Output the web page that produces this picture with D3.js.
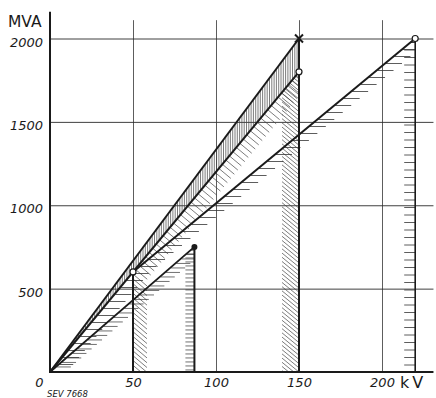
<!DOCTYPE html>
<html><head><meta charset="utf-8">
<script src="https://cdn.jsdelivr.net/npm/d3@7"></script>
<style>body{margin:0;background:#fff} svg{display:block}</style>
</head><body><svg id="c" width="436" height="398"></svg>
<script>
// ---- data ----
const xTicks=[0,50,100,150,200];
const xTickLabels=["0","50","100","150","200"];
const yTicks=[500,1000,1500,2000];
const yTickLabels=["500","1000","1500","2000"];
const lineA=[[0,0],[150,2000]];
const lineB=[[0,0],[150,1800]];
const lineC=[[50,600],[220,2000]];
const lineD=[[0,0],[87,750]];
const verticals=[[50,600],[87,750],[150,2000],[220,2000]];
const openPts=[[150,1800],[50,600],[220,2000]];
const filledPts=[[87,750]];
const crossPts=[[150,2000]];
const bandAB=[[0,0],[150,2000],[150,1800]];
const regionB=[[50,0],[50,600],[150,1800],[150,0]];
const regionC=[[0,0],[50,600],[220,2000],[220,0]];
const regionD=[[0,0],[87,750],[87,0]];

// ---- setup ----
const svg=d3.select('#c');
const x=d3.scaleLinear().domain([0,200]).range([50,382]);
const y=d3.scaleLinear().domain([0,2000]).range([372,38.5]);
const xMax=231, yMax=2160, gridTop=2110;
const ink='#1a1a1a';
const defs=svg.append('defs');
const P=p=>[x(p[0]),y(p[1])];

// grid + tick labels
const gx=svg.append('g').attr('transform',`translate(0,${y(0)})`)
  .call(d3.axisBottom(x).tickValues(xTicks).tickFormat((d,i)=>xTickLabels[i])
    .tickSizeInner(-(y(0)-y(gridTop))).tickSizeOuter(0).tickPadding(6));
gx.select('.domain').remove();
gx.selectAll('.tick line').attr('stroke','#333').attr('stroke-width',0.8);
gx.selectAll('.tick').filter(d=>d===0).select('line').remove();
gx.selectAll('.tick').filter(d=>d===0).select('text').attr('dx',-11);
gx.selectAll('text').attr('font-family','DejaVu Sans').attr('font-style','italic')
  .attr('font-size',13).attr('fill',ink);

const gy=svg.append('g').attr('transform',`translate(${x(0)},0)`)
  .call(d3.axisLeft(y).tickValues(yTicks).tickFormat((d,i)=>yTickLabels[i])
    .tickSizeInner(-(x(xMax)-x(0))).tickSizeOuter(0).tickPadding(7));
gy.select('.domain').remove();
gy.selectAll('.tick line').attr('stroke','#2a2a2a').attr('stroke-width',0.9);
gy.selectAll('text').attr('font-family','DejaVu Sans').attr('font-style','italic')
  .attr('font-size',13).attr('fill',ink).attr('dy','0.58em');

// clip paths for regions
function clip(id,pts){
  defs.append('clipPath').attr('id',id).append('path').attr('d',d3.line()(pts.map(P))+'Z');
}
clip('cAB',bandAB); clip('cB',regionB); clip('cC',regionC); clip('cD',regionD);

function xOnSeg(a,b,py){ const A=P(a),B=P(b); return A[0]+(py-A[1])*(B[0]-A[0])/(B[1]-A[1]); }
function drawSegs(id,segs,w,col){
  svg.append('g').attr('clip-path',`url(#${id})`).selectAll('line').data(segs).join('line')
    .attr('x1',d=>d[0]).attr('y1',d=>d[1]).attr('x2',d=>d[2]).attr('y2',d=>d[3])
    .attr('stroke',col).attr('stroke-width',w);
}

// band A-B : vertical hatch
{
  const segs=[];
  for(let px=x(0)+1;px<=x(150);px+=2.3){
    const v=x.invert(px);
    segs.push([px,y(v*2000/150),px,y(v*1800/150)]);
  }
  drawSegs('cAB',segs,0.7,'#444');
}
// region B : diagonal hatch along edges
{
  const segs=[];
  for(let py=y(600)+3;py<=y(0);py+=4.8) segs.push([x(50)+1,py,x(50)+14,py+11]);
  for(let py=y(1800)+2;py<=y(0)+14;py+=4.2) segs.push([x(150)-17,py-14,x(150),py]);
  for(let py=y(1800);py<=y(600);py+=4.2){
    const px=xOnSeg([50,600],[150,1800],py);
    segs.push([px,py,px+12,py+10]);
  }
  drawSegs('cB',segs,0.7,'#444');
}
// region C : horizontal hatch
{
  const segs=[];
  for(let py=y(2000)+4;py<=y(0)-2;py+=7.5) segs.push([x(220)-11,py,x(220),py]);
  for(let py=y(2000)+4;py<=y(0)-2;py+=7){
    const px=py<y(600)?xOnSeg(lineC[0],lineC[1],py):xOnSeg([0,0],[50,600],py);
    segs.push([px+1,py,px+17,py]);
  }
  drawSegs('cC',segs,0.8,'#333');
}
// region D : horizontal hatch
{
  const segs=[];
  for(let py=y(750)+3;py<=y(0)-1;py+=4) segs.push([x(87)-9,py,x(87),py]);
  for(let py=y(750)+3;py<=y(0)-1;py+=4.5){
    const px=xOnSeg(lineD[0],lineD[1],py);
    segs.push([px+1,py,px+15,py]);
  }
  drawSegs('cD',segs,0.7,'#333');
}

// axes lines
svg.append('line').attr('x1',x(0)).attr('x2',x(0)).attr('y1',y(0)+1).attr('y2',y(yMax))
  .attr('stroke',ink).attr('stroke-width',2);
svg.append('line').attr('x1',x(0)).attr('x2',x(xMax)).attr('y1',y(0)).attr('y2',y(0))
  .attr('stroke',ink).attr('stroke-width',2);

// verticals
svg.selectAll('line.vert').data(verticals).join('line').attr('class','vert')
  .attr('x1',d=>x(d[0])).attr('x2',d=>x(d[0])).attr('y1',y(0)).attr('y2',d=>y(d[1]))
  .attr('stroke',ink).attr('stroke-width',(d,i)=>i===3?1.6:2);

// main lines
const ln=d3.line().x(d=>x(d[0])).y(d=>y(d[1]));
[lineA,lineB,lineC,lineD].forEach((L,i)=>{
  svg.append('path').attr('d',ln(L)).attr('fill','none').attr('stroke',ink)
    .attr('stroke-width',i===3?1.8:2);
});

// markers
svg.selectAll('circle.o').data(openPts).join('circle').attr('class','o')
  .attr('cx',d=>x(d[0])).attr('cy',d=>y(d[1])).attr('r',3)
  .attr('fill','#fff').attr('stroke',ink).attr('stroke-width',1.2);
svg.selectAll('circle.f').data(filledPts).join('circle').attr('class','f')
  .attr('cx',d=>x(d[0])).attr('cy',d=>y(d[1])).attr('r',3).attr('fill',ink);
crossPts.forEach(d=>{
  const cx=x(d[0]),cy=y(d[1]),s=4;
  svg.append('path').attr('d',`M${cx-s},${cy-s}L${cx+s},${cy+s}M${cx-s},${cy+s}L${cx+s},${cy-s}`)
    .attr('stroke',ink).attr('stroke-width',2);
});

// unit labels
svg.append('text').attr('x',8).attr('y',27).text('MVA')
  .attr('font-family','DejaVu Sans').attr('font-size',15.5).attr('fill',ink);
svg.append('text').attr('x',400).attr('y',388).text('kV').attr('letter-spacing',3)
  .attr('font-family','DejaVu Sans').attr('font-size',16).attr('fill',ink);
svg.append('text').attr('x',47).attr('y',397).text('SEV 7668')
  .attr('font-family','DejaVu Sans').attr('font-style','italic').attr('font-size',8.5).attr('fill',ink);
</script></body></html>
